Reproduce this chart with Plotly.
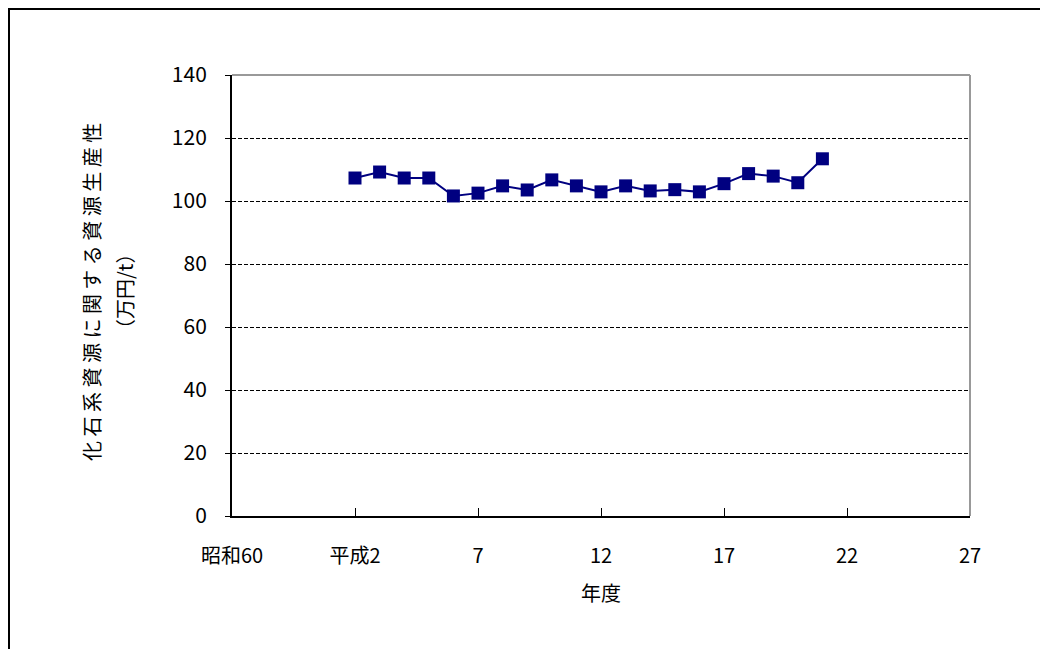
import plotly.graph_objects as go

years = list(range(1990, 2010))
productivity = [107.3, 109.2, 107.3, 107.3, 101.6, 102.5, 104.8, 103.5, 106.7, 104.8,
                102.9, 104.8, 103.2, 103.6, 102.9, 105.5, 108.7, 107.9, 105.8, 113.4]
x_tickvals = [1985, 1990, 1995, 2000, 2005, 2010, 2015]
x_ticktext = ["昭和60", "平成2", "7", "12", "17", "22", "27"]
y_tickvals = [0, 20, 40, 60, 80, 100, 120, 140]
y_title_1 = "化 石 系 資 源 に 関 す る 資 源 生 産 性"
y_title_2 = "（万円/t）"
x_title = "年度"

FONT = "Noto Sans CJK JP"
NAVY = "#000080"
OFF = 8  # page body margin

fig = go.Figure()
fig.add_trace(go.Scatter(
    x=years, y=productivity, mode="lines+markers",
    line=dict(color=NAVY, width=2),
    marker=dict(symbol="square", size=13, color=NAVY),
    showlegend=False, hoverinfo="x+y",
))

# plot area in page pixels: x 232..970, y 75..516
L, T = 232 - OFF, 75 - OFF
PW, PH = 738, 441
W, H = 1048 - OFF, 649 - OFF
R, B = W - L - PW, H - T - PH

def px_x(p):
    return (p - OFF - L) / PW

def px_y(p):
    return (T + PH - (p - OFF)) / PH

fig.update_layout(
    width=W, height=H,
    margin=dict(l=L, r=R, t=T, b=B, pad=0),
    paper_bgcolor="white", plot_bgcolor="white",
    font=dict(family=FONT, size=20, color="black"),
    xaxis=dict(
        range=[1985, 2015], tickvals=x_tickvals, ticktext=x_ticktext,
        showgrid=False, zeroline=False,
        showline=True, linecolor="black", linewidth=2,
        ticks="inside", ticklen=8, tickcolor="black", tickwidth=1,
        ticklabelstandoff=21,
        tickfont=dict(family=FONT, size=20),
    ),
    yaxis=dict(
        range=[0, 140], tickvals=y_tickvals,
        showgrid=True, gridcolor="black", griddash="4px,2px", gridwidth=1,
        zeroline=False,
        showline=True, linecolor="black", linewidth=2,
        ticks="outside", ticklen=5, tickcolor="black", tickwidth=1,
        ticklabelstandoff=14,
        tickfont=dict(family=FONT, size=21),
    ),
    shapes=[
        dict(type="line", xref="paper", yref="paper", x0=0, x1=1, y0=1, y1=1,
             line=dict(color="#999999", width=2), layer="above"),
        dict(type="line", xref="paper", yref="paper", x0=1, x1=1, y0=0, y1=1,
             line=dict(color="#999999", width=2), layer="above"),
        dict(type="rect", xref="paper", yref="paper",
             x0=px_x(9), x1=px_x(1070), y0=px_y(670), y1=px_y(9),
             line=dict(color="black", width=2), layer="above"),
    ],
    annotations=[
        dict(text=y_title_1, xref="paper", yref="paper", x=px_x(91), y=px_y(292),
             showarrow=False, textangle=-90, font=dict(family=FONT, size=20),
             xanchor="center", yanchor="middle"),
        dict(text=y_title_2, xref="paper", yref="paper", x=px_x(124), y=px_y(292),
             showarrow=False, textangle=-90, font=dict(family=FONT, size=20),
             xanchor="center", yanchor="middle"),
        dict(text=x_title, xref="paper", yref="paper", x=px_x(601), y=px_y(592),
             showarrow=False, font=dict(family=FONT, size=20),
             xanchor="center", yanchor="middle"),
    ],
)

fig.write_html("out.html")
